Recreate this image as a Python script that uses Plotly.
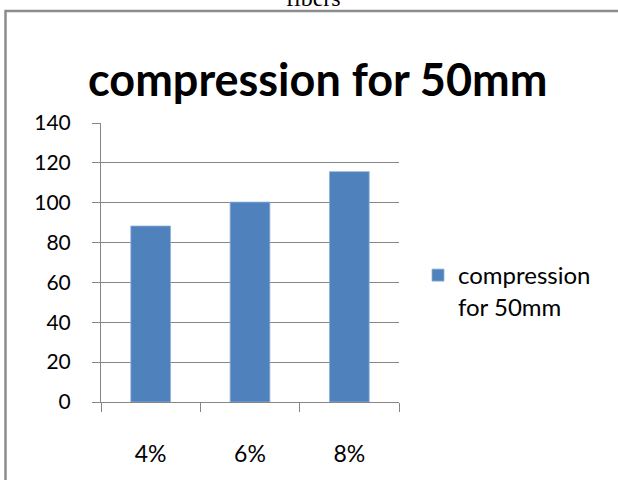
import plotly.graph_objects as go

categories = ["4%", "6%", "8%"]
values = [88.3, 100.3, 115.6]
series_name = "compression for 50mm"
y_ticks = [0, 20, 40, 60, 80, 100, 120, 140]

W, H = 618, 480
L, R, T, B = 101, 219, 123, 78
pw, ph = W - L - R, H - T - B

def px_x(px):
    return (px - L) / pw

def px_y(py):
    return (H - B - py) / ph

AX = "#868686"
FONT = "Lato, Carlito, Calibri, sans-serif"

fig = go.Figure()
fig.add_trace(go.Bar(
    x=categories, y=values, name="compression<br>for 50mm",
    marker=dict(color="#4F81BD", line=dict(width=0.8, color="#8fb0d8")),
    width=0.4,
))

fig.update_layout(
    width=W, height=H,
    margin=dict(l=L, r=R, t=T, b=B, pad=0),
    paper_bgcolor="white", plot_bgcolor="white",
    font=dict(family=FONT, color="black", size=20),
    showlegend=True,
    legend=dict(
        x=px_x(418), y=px_y(253), xanchor="left", yanchor="top",
        font=dict(family=FONT, size=24, color="black"),
        valign="top", bgcolor="rgba(0,0,0,0)", borderwidth=0,
        itemwidth=30, tracegroupgap=0,
    ),
    bargap=0.6,
)

fig.update_xaxes(
    type="category", showgrid=False, showline=True, linecolor=AX, linewidth=1,
    ticks="outside", tickson="boundaries", ticklen=9, tickcolor=AX, tickwidth=1,
    tickfont=dict(family=FONT, size=23, color="black"),
    ticklabelstandoff=31, zeroline=False,
)
fig.update_yaxes(
    range=[0, 140], tickvals=y_ticks, showgrid=True, gridcolor=AX, gridwidth=1,
    showline=True, linecolor=AX, linewidth=1,
    ticks="outside", ticklen=8, tickcolor=AX, tickwidth=1,
    tickfont=dict(family=FONT, size=21, color="black"),
    ticklabelstandoff=17, zeroline=False,
)

# outer chart frame (extends past right and bottom edges)
fig.add_shape(type="rect", xref="paper", yref="paper",
              x0=px_x(5.5), x1=px_x(640), y0=px_y(11), y1=px_y(500),
              line=dict(color="#8c8c8c", width=2.5), fillcolor="rgba(0,0,0,0)", layer="below")

# chart title
fig.add_annotation(text="<b>compression for 50mm</b>", xref="paper", yref="paper",
                   x=px_x(317), y=px_y(79), xanchor="center", yanchor="middle",
                   showarrow=False, font=dict(family=FONT, size=45, color="black"))

# clipped caption above the chart
fig.add_annotation(text="fibers", xref="paper", yref="paper",
                   x=px_x(313), y=px_y(13), xanchor="center", yanchor="bottom",
                   showarrow=False, font=dict(family="Liberation Serif, Times New Roman, serif", size=24, color="black"))

fig.write_html("out.html")
